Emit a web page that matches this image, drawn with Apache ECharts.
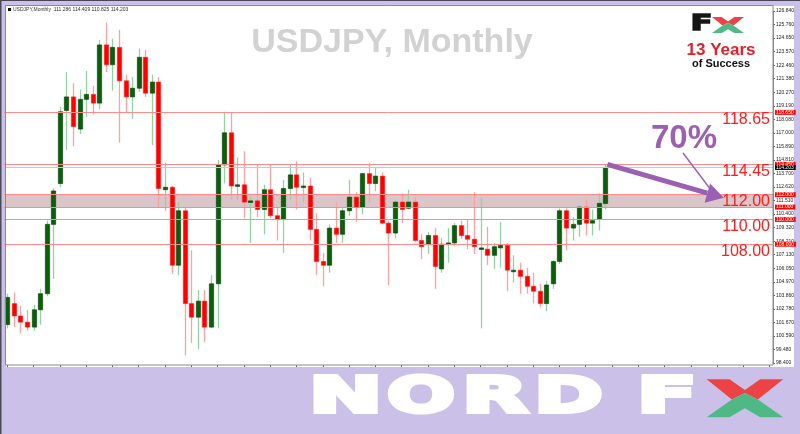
<!DOCTYPE html>
<html><head><meta charset="utf-8">
<script src="https://cdn.jsdelivr.net/npm/echarts@6/dist/echarts.min.js"></script>
<style>html,body{margin:0;padding:0;background:#cbc1e8}#c{width:800px;height:434px}</style>
</head><body><div id="c"></div>
<script>
// ---------- data ----------
const months = [
 'Mar 2014','Apr 2014','May 2014','Jun 2014','Jul 2014','Aug 2014','Sep 2014','Oct 2014','Nov 2014','Dec 2014',
 'Jan 2015','Feb 2015','Mar 2015','Apr 2015','May 2015','Jun 2015','Jul 2015','Aug 2015','Sep 2015','Oct 2015','Nov 2015','Dec 2015',
 'Jan 2016','Feb 2016','Mar 2016','Apr 2016','May 2016','Jun 2016','Jul 2016','Aug 2016','Sep 2016','Oct 2016','Nov 2016','Dec 2016',
 'Jan 2017','Feb 2017','Mar 2017','Apr 2017','May 2017','Jun 2017','Jul 2017','Aug 2017','Sep 2017','Oct 2017','Nov 2017','Dec 2017',
 'Jan 2018','Feb 2018','Mar 2018','Apr 2018','May 2018','Jun 2018','Jul 2018','Aug 2018','Sep 2018','Oct 2018','Nov 2018','Dec 2018',
 'Jan 2019','Feb 2019','Mar 2019','Apr 2019','May 2019','Jun 2019','Jul 2019','Aug 2019','Sep 2019','Oct 2019','Nov 2019','Dec 2019',
 'Jan 2020','Feb 2020','Mar 2020','Apr 2020','May 2020','Jun 2020','Jul 2020','Aug 2020','Sep 2020','Oct 2020','Nov 2020','Dec 2020',
 'Jan 2021','Feb 2021','Mar 2021','Apr 2021','May 2021','Jun 2021','Jul 2021','Aug 2021','Sep 2021','Oct 2021'
];
const open = [
 101.5,103.2,102.2,101.7,101.3,102.7,104.0,109.6,112.9,118.8,
 119.9,117.3,119.7,120.1,119.4,124.1,122.5,123.9,121.2,119.9,
 120.6,123.1,120.2,121.1,112.4,112.6,106.3,110.7,103.2,102.1,
 103.4,101.3,104.8,114.4,117.0,112.7,112.8,111.4,111.5,110.8,
 112.4,110.3,110.0,112.5,113.6,112.6,112.7,109.2,106.6,106.3,
 109.3,108.8,110.7,111.8,111.0,113.7,112.9,113.5,109.7,108.9,
 111.4,110.9,111.4,108.3,108.0,108.7,106.0,108.0,108.1,109.5,
 108.7,108.4,107.6,107.6,107.1,107.7,107.9,105.8,105.9,105.4,
 104.6,104.2,103.2,104.8,106.6,110.7,109.3,109.6,111.0,109.7,
 110.0,111.286
];
const high = [
 104.0,104.1,103.0,102.7,103.1,104.4,109.9,112.5,119.1,121.9,
 121.0,120.5,122.0,120.8,124.5,125.9,124.6,125.3,121.7,121.5,
 123.8,123.7,121.7,121.5,114.6,112.7,111.4,111.0,107.5,104.3,
 104.3,105.5,114.8,118.7,118.6,115.0,115.5,111.9,114.4,112.8,
 114.5,111.0,113.2,114.45,114.7,113.8,113.4,110.5,107.3,109.6,
 111.4,110.9,113.2,112.2,113.75,114.55,114.2,113.8,109.9,111.5,
 112.1,112.4,111.8,108.8,109.0,109.3,108.5,109.3,109.7,109.9,
 110.0,112.2,111.7,109.4,108.1,109.8,108.1,107.1,106.5,106.1,
 105.7,104.8,105.0,106.7,110.9,110.9,110.2,111.1,111.6,110.8,
 112.1,114.409
];
const low = [
 101.2,101.3,100.8,101.0,101.0,101.5,103.8,105.2,112.6,115.6,
 115.9,116.9,118.3,118.5,118.9,121.9,120.4,116.2,118.6,118.1,
 120.3,119.9,116.0,111.0,110.7,105.6,105.5,99.0,100.0,99.5,
 100.1,101.2,101.2,112.9,111.6,111.6,110.1,108.1,110.2,108.8,
 110.1,108.3,107.3,111.6,110.8,111.4,108.3,105.5,104.6,105.7,
 108.1,108.1,110.3,109.8,110.4,111.4,112.3,109.6,104.7,108.5,
 109.7,110.8,108.2,106.8,107.2,104.4,105.7,106.5,107.9,108.4,
 107.6,107.2,101.2,106.3,106.0,106.1,104.2,104.9,104.0,104.0,
 103.2,102.9,102.6,104.4,106.4,107.5,108.3,108.6,108.7,108.7,
 109.1,110.825
];
const close = [
 103.7,102.2,101.7,101.3,102.7,104.0,109.6,112.3,118.7,119.9,
 117.5,119.7,120.1,119.4,124.1,122.5,123.9,121.2,119.9,120.6,
 123.1,120.2,121.1,112.5,112.6,106.3,110.7,103.2,102.1,103.4,
 101.3,104.8,114.4,117.0,112.7,112.8,111.4,111.5,110.8,112.4,
 110.3,110.0,112.5,113.6,112.6,112.7,109.2,106.6,106.3,109.3,
 108.8,110.7,111.8,111.0,113.7,112.9,113.5,109.7,108.9,111.4,
 110.8,111.4,108.3,107.8,108.7,106.2,108.0,108.1,109.5,108.7,
 108.4,107.8,107.7,107.1,107.8,107.9,105.9,105.9,105.4,104.6,
 104.2,103.2,104.7,106.6,110.7,109.3,109.6,111.0,109.7,109.9,
 111.3,114.203
];
const yTickLabels = ['98.400','99.480','100.590','101.670','102.780','103.860','104.970','106.050','107.130','108.210',
 '109.320','110.400','111.510','112.620','113.700','114.810','115.890','117.000','118.080','119.190',
 '120.270','121.380','122.460','123.570','124.650','125.760','126.840'];
const levels = [118.65, 114.45, 112.00, 111.00, 110.00, 108.00];
const levelBoxLabels = ['118.650','114.450','112.000','111.000','110.000','108.000'];
const bigLevels = [118.65, 114.45, 112.00, 110.00, 108.00];
const bigLabels = ['118.65','114.45','112.00','110.00','108.00'];
const zone = [111.00, 112.00];
const bid = 114.203;
const bidLabel = '114.203';
const headerText = 'USDJPY,Monthly  111.286 114.409 110.825 114.203';
const titleText = 'USDJPY, Monthly';
const pctText = '70%';
const arrowFrom = [91, 114.45];
const arrowTo = [108.6, 111.75];

// ---------- layout ----------
const yMin = 98.4, yMax = 126.84, yStep = (yMax - yMin) / 26;
const SLOTS = 117;
const cats = months.concat(new Array(SLOTS - months.length).fill(''));
const candleData = months.map((m, i) => [i, open[i], close[i], low[i], high[i]]);
const FONT = '"Liberation Sans", Arial, sans-serif';
const LOGOFONT = '"DejaVu Sans", "Liberation Sans", sans-serif';

const chart = echarts.init(document.getElementById('c'), null, {renderer: 'canvas'});

function renderCandle(params, api) {
  const i = api.value(0);
  const o = api.value(1), c = api.value(2), l = api.value(3), h = api.value(4);
  const pO = api.coord([i, o]), pC = api.coord([i, c]), pL = api.coord([i, l]), pH = api.coord([i, h]);
  const w = api.size([1, 0])[0] * 0.66;
  const up = c >= o;
  const x = Math.round(pO[0]) + 0.5;
  const top = Math.min(pO[1], pC[1]), bot = Math.max(pO[1], pC[1]);
  return {type: 'group', children: [
    {type: 'line', shape: {x1: x, y1: pH[1], x2: x, y2: pL[1]},
     style: {stroke: up ? '#93d2a2' : '#ffa0a0', lineWidth: 1.3}},
    {type: 'rect', shape: {x: x - w / 2, y: top, width: w, height: Math.max(bot - top, 1.6)},
     style: {fill: up ? '#0b5e0b' : '#ff0000', stroke: up ? '#063e06' : '#ff1a1a', lineWidth: 0.6}}
  ]};
}

chart.setOption({
  animation: false,
  backgroundColor: '#cbc1e8',
  grid: {left: 4, right: 27, top: 11, bottom: 71},
  xAxis: {
    type: 'category', data: cats, boundaryGap: true, offset: 2,
    axisLine: {show: false},
    axisTick: {show: true, alignWithLabel: true, interval: 3, length: 2, lineStyle: {color: '#666'}},
    axisLabel: {show: false}, splitLine: {show: false}
  },
  yAxis: {
    type: 'value', position: 'right', min: yMin, max: yMax, interval: yStep, scale: true,
    axisLine: {show: true, lineStyle: {color: '#8a8a8a'}},
    axisTick: {show: true, length: 2, lineStyle: {color: '#666'}},
    splitLine: {show: false},
    axisLabel: {fontSize: 5, color: '#222', margin: 3, fontFamily: FONT,
      formatter: v => yTickLabels[Math.round((v - yMin) / yStep)] || ''}
  },
  series: [
    {
      type: 'line', data: [], z: 1, silent: true,
      markArea: {silent: true, itemStyle: {color: '#dac5c8'}, data: [[{yAxis: zone[0]}, {yAxis: zone[1]}]]},
      markLine: {
        silent: true, symbol: 'none', animation: false,
        data: levels.map((v, k) => ({yAxis: v,
          lineStyle: {color: '#ff8a8a', width: 1, type: 'solid'},
          label: {show: true, position: 'end', distance: 2, formatter: levelBoxLabels[k],
            color: '#fff', backgroundColor: '#ff0000', fontSize: 5, fontFamily: FONT, padding: [0, 2, 0, 1]}}))
          .concat([{yAxis: bid, lineStyle: {color: '#c3c8d8', width: 1, type: 'solid'},
            label: {show: true, position: 'end', distance: 2, formatter: bidLabel,
              color: '#fff', backgroundColor: '#000', fontSize: 5, fontFamily: FONT, padding: [0, 2, 0, 1]}}])
      }
    },
    {
      type: 'custom', z: 3, clip: true, silent: true,
      renderItem: renderCandle,
      encode: {x: 0, y: [1, 2, 3, 4]},
      data: candleData
    }
  ]
});

// ---------- annotations ----------
const toPx = p => chart.convertToPixel({xAxisIndex: 0, yAxisIndex: 0}, p);
const S0 = toPx(arrowFrom), T = toPx(arrowTo);
const S = [S0[0] + 2, S0[1]];
const dx = T[0] - S[0], dy = T[1] - S[1], len = Math.hypot(dx, dy);
const d = [dx / len, dy / len], n = [-d[1], d[0]];
const AL = 17, AW = 10;
const B = [T[0] - d[0] * AL, T[1] - d[1] * AL];
const PURPLE = '#9b60b4';

function txt(x, y, text, size, color, weight, align, extra, family, strokeW) {
  const st = {text: text, x: 0, y: 0, fill: color, font: (weight || 'normal') + ' ' + size + 'px ' + (family || FONT),
      textAlign: align || 'left', align: align || 'left', textVerticalAlign: 'middle', verticalAlign: 'middle'};
  if (strokeW) { st.stroke = color; st.lineWidth = strokeW; st.lineJoin = 'round'; }
  return Object.assign({type: 'text', x: x, y: y, z: 50, style: st}, extra || {});
}
function xMark(x0, y0, w, h) {
  const P = pts => pts.map(p => [x0 + p[0] * w, y0 + p[1] * h]);
  return [
    {type: 'polygon', z: 50, shape: {points: P([[0,0],[0.30,0],[0.5,0.28],[0.70,0],[1,0],[0.67,0.53],[0.5,0.36],[0.33,0.53]])}, style: {fill: '#ec4446'}},
    {type: 'polygon', z: 50, shape: {points: P([[0.33,0.53],[0.5,0.36],[0.67,0.53],[1,1],[0.70,1],[0.5,0.76],[0.30,1],[0,1]])}, style: {fill: '#4fb985'}}
  ];
}

const graphics = [
  {type: 'rect', z: -10, shape: {x: 6, y: 6, width: 788, height: 361}, style: {fill: '#fff'}},
  {type: 'rect', z: -9, shape: {x: 0, y: 0, width: 800, height: 1}, style: {fill: '#4a4458'}},
  {type: 'rect', z: -9, shape: {x: 0, y: 0, width: 1.5, height: 434}, style: {fill: '#4a4a56'}},
  {type: 'rect', z: 40, shape: {x: 5.5, y: 5.5, width: 767.5, height: 359.5}, style: {fill: null, stroke: '#8a8a8a', lineWidth: 1}},
  {type: 'rect', z: 50, shape: {x: 8, y: 8, width: 3, height: 3}, style: {fill: '#111'}},
  txt(13, 9.5, headerText, 5, '#333'),
  txt(392, 43, titleText, 34, '#d2d2d2', 'bold', 'center'),
  txt(701.5, 25, 'F', 21, '#151515', 'bold', 'center', {scaleX: 1.5}, LOGOFONT, 1.6),
  ...xMark(712, 17, 32, 16),
  txt(721, 50, '13 Years', 17, '#e3202b', 'bold', 'center'),
  txt(721, 64, 'of Success', 11, '#111', 'bold', 'center'),
  txt(684, 139, pctText, 33, PURPLE, 'bold', 'center'),
  {type: 'line', z: 60, shape: {x1: 683, y1: 153, x2: 711, y2: 190}, style: {stroke: PURPLE, lineWidth: 1.4}},
  {type: 'line', z: 60, shape: {x1: S[0], y1: S[1], x2: B[0], y2: B[1]}, style: {stroke: PURPLE, lineWidth: 5}},
  {type: 'polygon', z: 60, shape: {points: [[T[0], T[1]], [B[0] + n[0] * AW, B[1] + n[1] * AW], [B[0] - n[0] * AW, B[1] - n[1] * AW]]}, style: {fill: PURPLE}},
  ...bigLevels.map((v, k) => txt(770, toPx([0, v])[1] + 7, bigLabels[k], 16, '#ff1c1c', 'normal', 'right')),
  // bottom logo
  txt(345.5, 399.5, 'N', 50, '#fff', 'bold', 'center', {scaleX: 1.75}, LOGOFONT, 4),
  txt(421, 399.5, 'O', 50, '#fff', 'bold', 'center', {scaleX: 1.6}, LOGOFONT, 4),
  txt(495, 399.5, 'R', 50, '#fff', 'bold', 'center', {scaleX: 1.7}, LOGOFONT, 4),
  txt(568.5, 399.5, 'D', 50, '#fff', 'bold', 'center', {scaleX: 1.65}, LOGOFONT, 4),
  txt(667, 399.5, 'F', 50, '#fff', 'bold', 'center', {scaleX: 1.75}, LOGOFONT, 4),
  ...xMark(706.6, 379.3, 76.6, 38)
];
chart.setOption({graphic: {elements: graphics}});
</script></body></html>
